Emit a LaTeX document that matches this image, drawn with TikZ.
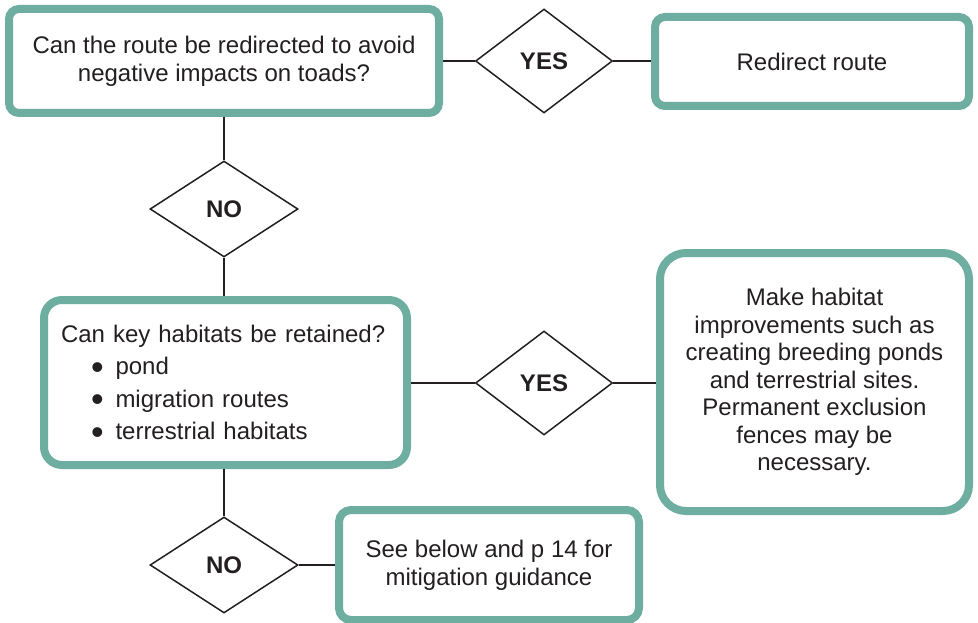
\documentclass[tikz,border=0pt]{standalone}
\usepackage{fontspec}
\setmainfont{Liberation Sans}
\usetikzlibrary{shapes.geometric}
\definecolor{tealb}{RGB}{109,174,160}
\definecolor{ink}{RGB}{35,31,32}
\newcommand{\bigbul}{\hspace*{30pt}\makebox[24.5pt][l]{\smash{\raisebox{-4.5pt}{\fontsize{36}{36}\selectfont •}}}}
\begin{document}
\begin{tikzpicture}[x=1pt,y=-1pt,
  box/.style={draw=tealb, line width=8pt, fill=white, rounded corners=#1,
    inner sep=0pt, align=center, text=ink, font=\fontsize{24}{28}\selectfont},
  box/.default=10pt,
  dia/.style={draw=ink, line width=1.5pt, fill=white, diamond, inner sep=0pt,
    text=ink, font=\fontsize{24}{28}\selectfont\bfseries},
  conn/.style={draw=ink, line width=1.6pt}]
\useasboundingbox (0,0) rectangle (978,623);

\node[box=10pt, minimum width=430pt, minimum height=104pt] (b1) at (224,61)
  {Can the route be redirected to avoid\\negative impacts on toads?};
\node[box=10pt, minimum width=314pt, minimum height=89pt] (b2) at (812,61.5)
  {Redirect route};
\node[box=18pt, minimum width=363pt, minimum height=165pt, text width=329pt,
  align=left, font=\fontsize{24}{32.5}\selectfont] (b3) at (225.5,382.5)
  {Can key habitats be retained?\\
   \bigbul pond\\
   \bigbul migration routes\\
   \bigbul terrestrial habitats};
\node[box=26pt, minimum width=309pt, minimum height=258pt,
  font=\fontsize{24}{27.5}\selectfont] (b4) at (814.5,382)
  {Make habitat\\improvements such as\\creating breeding ponds\\and terrestrial sites.\\Permanent exclusion\\fences may be\\necessary.};
\node[box=12pt, minimum width=300pt, minimum height=110pt] (b5) at (489,565)
  {See below and p 14 for\\mitigation guidance};

\node[dia, minimum width=137pt, minimum height=104pt] (d1) at (544,61) {YES};
\node[dia, minimum width=148pt, minimum height=96pt] (d2) at (224,209) {NO};
\node[dia, minimum width=137pt, minimum height=104pt] (d3) at (544,383) {YES};
\node[dia, minimum width=148pt, minimum height=96pt] (d4) at (224,565) {NO};

\draw[conn] (b1.east |- d1.west) -- (d1.west);
\draw[conn] (d1.east) -- (d1.east -| b2.west);
\draw[conn] (d2.north |- b1.south) -- (d2.north);
\draw[conn] (d2.south) -- (d2.south |- b3.north);
\draw[conn] (b3.east |- d3.west) -- (d3.west);
\draw[conn] (d3.east) -- (d3.east -| b4.west);
\draw[conn] (d4.north |- b3.south) -- (d4.north);
\draw[conn] (d4.east) -- (d4.east -| b5.west);
\end{tikzpicture}
\end{document}
